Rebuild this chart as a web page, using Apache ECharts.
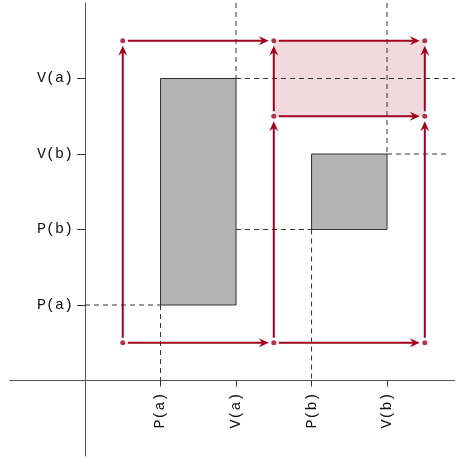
<!DOCTYPE html>
<html>
<head>
<meta charset="utf-8">
<script src="https://cdn.jsdelivr.net/npm/echarts@6/dist/echarts.min.js"></script>
<style>
  html, body { margin: 0; padding: 0; background: #fff; }
  #chart { width: 455px; height: 459px; }
</style>
</head>
<body>
<div id="chart"></div>
<script>
// tick positions and their labels
const xTickValues = [1, 2, 3, 4];
const xTickLabels = ['P(a)', 'V(a)', 'P(b)', 'V(b)'];
const yTickValues = [1, 2, 3, 4];
const yTickLabels = ['P(a)', 'P(b)', 'V(b)', 'V(a)'];

// [x0, y0, x1, y1]
const grayRects = [[1, 1, 2, 4], [3, 2, 4, 3]];
const pinkRects = [[2.5, 3.5, 4.5, 4.5]];

// dashed guide segments [x0, y0, x1, y1]
const guideLines = [
  [2, 5, 2, 4],
  [4, 5, 4, 3],
  [2, 4, 4.9, 4],
  [4, 3, 4.8, 3],
  [2, 2, 3, 2],
  [0, 1, 1, 1],
  [1, 1, 1, 0],
  [3, 2, 3, 0]
];

// red arrows [x0, y0, x1, y1]
const arrows = [
  [0.5, 0.5, 0.5, 4.5],
  [0.5, 4.5, 2.5, 4.5],
  [0.5, 0.5, 2.5, 0.5],
  [2.5, 0.5, 2.5, 3.5],
  [2.5, 3.5, 2.5, 4.5],
  [2.5, 4.5, 4.5, 4.5],
  [2.5, 0.5, 4.5, 0.5],
  [4.5, 0.5, 4.5, 3.5],
  [4.5, 3.5, 4.5, 4.5],
  [2.5, 3.5, 4.5, 3.5]
];

const dots = [
  [0.5, 0.5], [0.5, 4.5], [2.5, 0.5], [2.5, 3.5],
  [2.5, 4.5], [4.5, 0.5], [4.5, 3.5], [4.5, 4.5]
];

const RED = '#a0001e';
const MONO = "'Courier New', 'Liberation Mono', Courier, monospace";

// grid edges and where the zero lines land (px)
const GRID = { left: 9.5, right: 0, top: 3, bottom: 3 };
const ZERO_X = 85, ZERO_Y = 380.5;

let chart = echarts.init(document.getElementById('chart'));

function renderRect(fill, stroke) {
  return function (params, api) {
    let p0 = api.coord([api.value(0), api.value(1)]);
    let p1 = api.coord([api.value(2), api.value(3)]);
    return {
      type: 'rect',
      shape: {
        x: Math.min(p0[0], p1[0]),
        y: Math.min(p0[1], p1[1]),
        width: Math.abs(p1[0] - p0[0]),
        height: Math.abs(p1[1] - p0[1])
      },
      style: { fill: fill, stroke: stroke, lineWidth: stroke ? 1 : 0 }
    };
  };
}

function renderGuide(params, api) {
  let p0 = api.coord([api.value(0), api.value(1)]);
  let p1 = api.coord([api.value(2), api.value(3)]);
  return {
    type: 'line',
    shape: { x1: p0[0], y1: p0[1], x2: p1[0], y2: p1[1] },
    style: { stroke: '#333', lineWidth: 1, lineDash: [5, 4] }
  };
}

function renderArrow(params, api) {
  let p0 = api.coord([api.value(0), api.value(1)]);
  let p1 = api.coord([api.value(2), api.value(3)]);
  let dx = p1[0] - p0[0], dy = p1[1] - p0[1];
  let len = Math.hypot(dx, dy);
  let ux = dx / len, uy = dy / len;
  let nx = -uy, ny = ux;
  let gapStart = 5, gapEnd = 5;
  let headLen = 10, half = 4.5, notch = 6.5;
  let tip = [p1[0] - ux * gapEnd, p1[1] - uy * gapEnd];
  let back = [tip[0] - ux * headLen, tip[1] - uy * headLen];
  let inner = [tip[0] - ux * notch, tip[1] - uy * notch];
  return {
    type: 'group',
    children: [
      {
        type: 'line',
        shape: {
          x1: p0[0] + ux * gapStart, y1: p0[1] + uy * gapStart,
          x2: inner[0], y2: inner[1]
        },
        style: { stroke: RED, lineWidth: 2 }
      },
      {
        type: 'polygon',
        shape: {
          points: [
            tip,
            [back[0] + nx * half, back[1] + ny * half],
            inner,
            [back[0] - nx * half, back[1] - ny * half]
          ]
        },
        style: { fill: RED }
      }
    ]
  };
}

let option = {
  animation: false,
  grid: Object.assign({ containLabel: false, outerBoundsMode: 'none' }, GRID),
  xAxis: {
    type: 'value',
    min: -1,
    max: 4.9,
    axisLine: { onZero: true, lineStyle: { color: '#555', width: 1 } },
    axisTick: { customValues: xTickValues, length: 6, lineStyle: { color: '#333' } },
    axisLabel: {
      customValues: xTickValues,
      rotate: 90,
      // labels stay at the grid edge, pull them back up to the zero line
      margin: 12 - (459 - GRID.bottom - ZERO_Y),
      fontFamily: MONO,
      fontSize: 15,
      color: '#111',
      formatter: (v) => xTickLabels[xTickValues.indexOf(v)]
    },
    splitLine: { show: false }
  },
  yAxis: {
    type: 'value',
    min: -1,
    max: 5,
    axisLine: { onZero: true, lineStyle: { color: '#555', width: 1 } },
    axisTick: { customValues: yTickValues, length: 8, lineStyle: { color: '#333' } },
    axisLabel: {
      customValues: yTickValues,
      margin: 12 - (ZERO_X - GRID.left),
      fontFamily: MONO,
      fontSize: 15,
      color: '#111',
      formatter: (v) => yTickLabels[yTickValues.indexOf(v)]
    },
    splitLine: { show: false }
  },
  series: [
    {
      type: 'custom',
      z: 1,
      renderItem: renderRect('rgba(160,0,30,0.15)', null),
      encode: { x: [0, 2], y: [1, 3] },
      data: pinkRects
    },
    {
      type: 'custom',
      z: 2,
      renderItem: renderRect('#b3b3b3', '#333'),
      encode: { x: [0, 2], y: [1, 3] },
      data: grayRects
    },
    {
      type: 'custom',
      z: 3,
      renderItem: renderGuide,
      encode: { x: [0, 2], y: [1, 3] },
      data: guideLines
    },
    {
      type: 'custom',
      z: 4,
      renderItem: renderArrow,
      encode: { x: [0, 2], y: [1, 3] },
      data: arrows
    },
    {
      type: 'scatter',
      z: 5,
      symbolSize: 5,
      itemStyle: { color: RED },
      data: dots
    }
  ]
};

chart.setOption(option);
</script>
</body>
</html>
